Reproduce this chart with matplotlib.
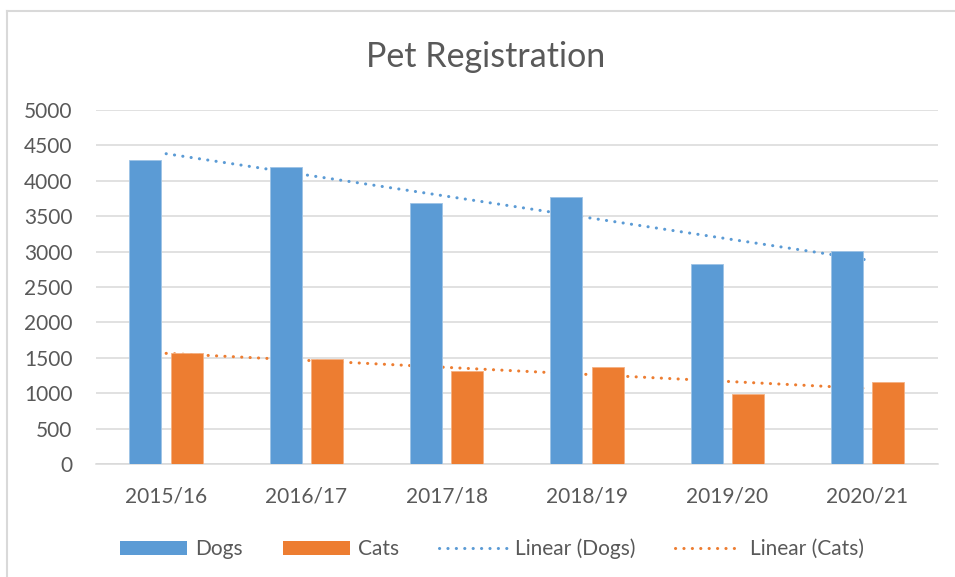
import numpy as np
import matplotlib
matplotlib.use("Agg")
import matplotlib.pyplot as plt
from matplotlib.lines import Line2D
from matplotlib.patches import Patch

categories = ["2015/16", "2016/17", "2017/18", "2018/19", "2019/20", "2020/21"]
dogs = [4300, 4200, 3690, 3770, 2820, 3010]
cats = [1570, 1480, 1320, 1370, 990, 1160]
yticks = [0, 500, 1000, 1500, 2000, 2500, 3000, 3500, 4000, 4500, 5000]

BLUE = "#5B9BD5"
ORANGE = "#ED7D31"
GRID = "#D9D9D9"
TXT = "#595959"
FONT = "Lato"

W, H = 955, 577
fig = plt.figure(figsize=(W / 100, H / 100), dpi=100)
ax = fig.add_axes([96 / W, 1 - 464 / H, (937.7 - 96) / W, (464 - 110) / H])

x = np.arange(len(categories))
bw = 0.228
off = 0.148
ax.bar(x - off, dogs, width=bw, color=BLUE, edgecolor="#9DC3E6", linewidth=0.6, zorder=3, label="Dogs")
ax.bar(x + off, cats, width=bw, color=ORANGE, edgecolor="#F4B183", linewidth=0.6, zorder=3, label="Cats")

# linear trendlines (drawn beneath the bars, as in the original)
dot = (0, (0.05, 2.7))
for vals, col in ((dogs, BLUE), (cats, ORANGE)):
    k, b = np.polyfit(x, vals, 1)
    ax.plot(x, k * x + b, color=col, linewidth=2.2, linestyle=dot,
            dash_capstyle="round", zorder=2)

ax.set_xlim(-0.5, len(categories) - 0.5)
ax.set_ylim(0, 5000)
ax.set_yticks(yticks)
ax.set_yticklabels([str(v) for v in yticks])
ax.set_xticks(x)
ax.set_xticklabels(categories)
ax.yaxis.grid(True, color=GRID, linewidth=1.1, zorder=0)
ax.set_axisbelow(True)
for s in ("top", "right", "left"):
    ax.spines[s].set_visible(False)
ax.spines["bottom"].set_color(GRID)
ax.spines["bottom"].set_linewidth(1.1)
ax.tick_params(axis="both", length=0, colors=TXT, labelsize=15)
ax.tick_params(axis="y", pad=17)
ax.tick_params(axis="x", pad=16)
for lab in ax.get_xticklabels() + ax.get_yticklabels():
    lab.set_fontfamily(FONT)

fig.text(486 / W, 1 - 57 / H, "Pet Registration", ha="center", va="center",
         fontsize=24.5, color=TXT, family=FONT)

handles = [
    Patch(facecolor=BLUE, edgecolor="none"),
    Patch(facecolor=ORANGE, edgecolor="none"),
    Line2D([0], [0], color=BLUE, linewidth=2.2, linestyle=dot, dash_capstyle="round"),
    Line2D([0], [0], color=ORANGE, linewidth=2.2, linestyle=dot, dash_capstyle="round"),
]
labels = ["Dogs", "Cats", "Linear (Dogs)", "Linear (Cats)"]
leg = fig.legend(handles, labels, loc="center", bbox_to_anchor=(492 / W, 1 - 549 / H),
                 ncol=4, frameon=False, handlelength=3.25, handleheight=0.7,
                 handletextpad=0.38, columnspacing=1.9,
                 prop={"family": FONT, "size": 15})
for t in leg.get_texts():
    t.set_color(TXT)

# chart-area border (top and left edges visible)
fig.add_artist(Line2D([6.5 / W, 1], [1 - 10.5 / H, 1 - 10.5 / H], color=GRID, linewidth=1.5,
                      transform=fig.transFigure))
fig.add_artist(Line2D([6.5 / W, 6.5 / W], [0, 1 - 10.5 / H], color=GRID, linewidth=1.5,
                      transform=fig.transFigure))

fig.savefig("out.png", dpi=100, facecolor="white")
